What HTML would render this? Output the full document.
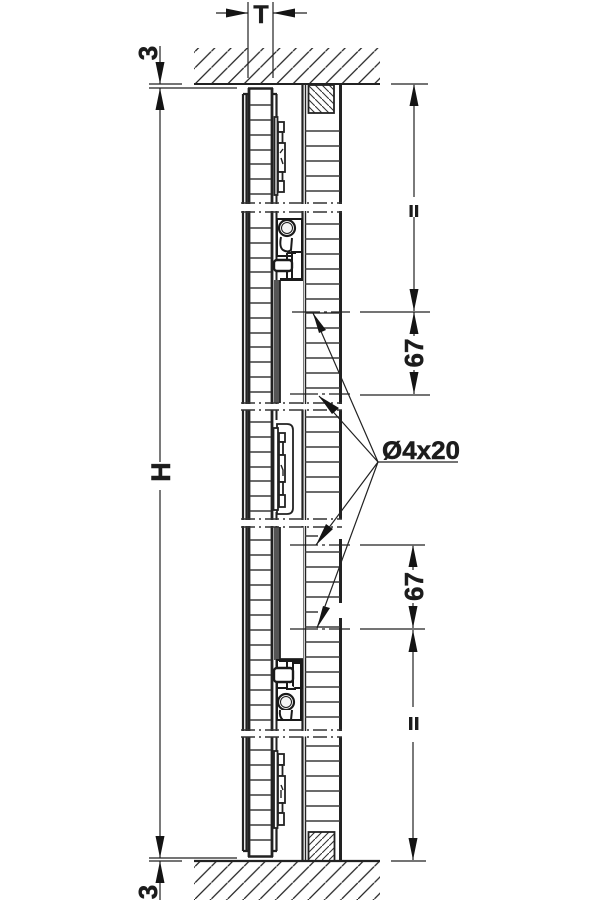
<!DOCTYPE html>
<html><head><meta charset="utf-8"><style>
html,body{margin:0;padding:0;background:#fff;width:600px;height:900px;overflow:hidden}
svg{display:block}
text{font-family:"Liberation Sans",sans-serif;font-weight:bold;fill:#1c1c1c;stroke:#1c1c1c;stroke-width:.5}
</style></head><body>
<svg width="600" height="900" viewBox="0 0 600 900" xmlns="http://www.w3.org/2000/svg">
<defs>
<pattern id="h" patternUnits="userSpaceOnUse" width="16.3" height="16.3" x="195" y="84"><path d="M-2 18.3L18.3-2" stroke="#222" stroke-width="1.3" fill="none"/></pattern>
<pattern id="w1" patternUnits="userSpaceOnUse" width="7" height="7" x="308" y="85"><path d="M-1-1L8 8" stroke="#333" stroke-width="1.1" fill="none"/></pattern>
<pattern id="w2" patternUnits="userSpaceOnUse" width="7" height="7" x="308" y="832"><path d="M-1 8L8-1" stroke="#333" stroke-width="1.1" fill="none"/></pattern>
</defs>

<!-- walls -->
<rect x="194" y="48" width="186" height="36" fill="url(#h)"/>
<rect x="194" y="861" width="186" height="39" fill="url(#h)"/>

<!-- door verticals -->
<g fill="none" stroke="#222">
<path stroke-width="2.2" d="M243 94V851M246.5 94V851"/>
<path stroke-width="2.8" d="M249 88V857"/>
<path stroke-width="2.8" d="M272 88V857"/>
<path stroke-width="2.2" d="M243 94H248M243 851H248M272 94H277M272 851H277M276.5 94V118M276.5 828V851"/>
<path stroke-width="2.6" d="M248 88.5H273M248 856.5H273"/>
<path stroke-width="2" d="M276.5 195V420M276.5 512V752"/>
<!-- door rungs -->
<path stroke="#3a3a3a" stroke-width="1.5" d="M250 105H271M250 120H271M250 135H271M250 150H271M250 164H271M250 179H271M250 194H271M250 228H271M250 243H271M250 258H271M250 272H271M250 288H271M250 303H271M250 318H271M250 333H271M250 347H271M250 362H271M250 377H271M250 392H271M250 422H271M250 437H271M250 452H271M250 467H271M250 481H271M250 496H271M250 511H271M250 540H271M250 555H271M250 570H271M250 585H271M250 600H271M250 615H271M250 630H271M250 645H271M250 660H271M250 675H271M250 690H271M250 705H271M250 720H271M250 750H271M250 765H271M250 780H271M250 795H271M250 810H271M250 825H271M250 840H271"/>
<!-- right panel -->
<path stroke-width="2.2" d="M302.5 84V861"/>
<path stroke-width="1.4" d="M305.5 84V861"/>
<path stroke-width="3" d="M340.5 84V519M340.5 539V603M340.5 618V861"/>
<path stroke="#3a3a3a" stroke-width="1.5" d="M305 131H340M305 146H340M305 161H340M305 176H340M305 191H340M305 224H340M305 239H340M305 254H340M305 269H340M305 284H340M305 299H340M305 313H340M305 328H340M305 343H340M305 358H340M305 373H340M305 388H340M305 417H340M305 432H340M305 447H340M305 462H340M305 477H340M305 492H340M305 536H318M305 552H340M305 567H340M305 582H340M305 597H340M305 612H318M305 627H340M305 642H340M305 657H340M305 672H340M305 687H340M305 702H340M305 717H340M305 746H340M305 761H340M305 776H340M305 791H340M305 806H340M305 821H340"/>
</g>

<!-- wood blocks -->
<rect x="308.5" y="85" width="25.5" height="28" fill="#fff"/><rect x="308.5" y="85" width="25.5" height="28" fill="url(#w1)" stroke="#222" stroke-width="1.8"/>
<rect x="308.5" y="832" width="26" height="29" fill="#fff"/><rect x="308.5" y="832" width="26" height="29" fill="url(#w2)" stroke="#222" stroke-width="1.8"/>

<!-- hardware -->
<g fill="#fff" stroke="#222" stroke-width="1.8">
<rect x="274.5" y="117" width="3" height="78"/>
<rect x="278" y="122" width="6" height="10"/><rect x="278" y="132" width="4.5" height="11"/><rect x="278" y="143" width="7" height="29"/><rect x="278" y="172" width="4.5" height="9"/><rect x="278" y="181" width="6" height="11"/>
<path d="M280 153L283 149M281 158L283 164" fill="none" stroke-width="1.4"/>
<rect x="274" y="751" width="3.5" height="77"/>
<rect x="278" y="754" width="6" height="11"/><rect x="278" y="765" width="4.5" height="11"/><rect x="278" y="776" width="7" height="27"/><rect x="278" y="803" width="4.5" height="10"/><rect x="278" y="813" width="6" height="12"/>
<path d="M281 785L283 790M281 798V790" fill="none" stroke-width="1.4"/>
<path d="M277 424H287Q293 424 293 430V508Q293 514 287 514H277Z"/>
<rect x="273.5" y="428" width="4.5" height="82"/>
<rect x="279" y="433" width="6" height="9"/><rect x="279" y="442" width="4" height="13"/><rect x="279" y="455" width="6" height="27"/><rect x="279" y="482" width="4" height="13"/><rect x="279" y="495" width="6" height="12"/>
<path d="M281 465L283 470V476" fill="none" stroke-width="1.4"/>
</g>

<!-- plates -->
<rect x="274" y="280" width="6" height="123" fill="#555"/>
<rect x="274" y="527" width="6" height="133" fill="#555"/>
<rect x="280" y="280" width="23" height="123" fill="#fff"/>
<rect x="280" y="527" width="23" height="132" fill="#fff"/>
<path d="M280 280V403M280 527V659H303" fill="none" stroke="#222" stroke-width="1.8"/>

<!-- upper hinge -->
<g fill="#fff" stroke="#1a1a1a">
<path stroke-width="2" d="M277 219H302V252H293V256H277Z"/>
<circle cx="287" cy="228" r="8" stroke-width="2.2"/><circle cx="287" cy="228" r="5.5" stroke-width="1" fill="#f4f4f4"/>
<path stroke-width="2" d="M281 237Q279 247 283 250Q288 253 291 250L292 238"/>
<rect x="292" y="252" width="10" height="28" stroke-width="2"/>
<path stroke-width="2" d="M287 253H296M287 253V260M287 270V278"/>
<rect x="274" y="260" width="18" height="11" rx="3" stroke-width="2.4"/>
<path stroke-width="3" d="M280 279.5H303"/>
</g>
<!-- lower hinge -->
<g fill="#fff" stroke="#1a1a1a">
<path stroke-width="2" d="M277 689V720H301V689"/>
<path stroke-width="2" d="M277 660H302V688H277Z"/>
<circle cx="286" cy="702" r="8" stroke-width="2.2"/><circle cx="286" cy="702" r="5.5" stroke-width="1" fill="#f4f4f4"/>
<path stroke-width="2" d="M280 710Q279 717 283 720H291L292 710"/>
<rect x="293" y="663" width="8" height="25" stroke-width="2"/>
<rect x="274" y="668" width="19" height="14" rx="3" stroke-width="2.4"/>
<path stroke-width="2" d="M287 682V689H296M287 662V668"/>
<path stroke-width="3" d="M279 660.5H303"/>
</g>

<!-- break bands -->
<g fill="#fff"><rect x="238" y="204" width="108" height="7"/><rect x="238" y="404" width="108" height="5.5"/><rect x="238" y="520" width="108" height="6"/><rect x="238" y="731" width="108" height="5.5"/></g>
<g stroke="#333" stroke-width="1.6" fill="none" stroke-dasharray="14 4 2 4">
<path d="M241 203H342M241 212H342M241 403H342M241 410H342M241 519H342M241 527H342M241 730H342M241 737H342"/>
</g>

<!-- dimensioning -->
<g stroke="#222" stroke-width="1.2" fill="none">
<path stroke-width="2" d="M194 84H380"/><path stroke-width="2.2" d="M194 861H380"/>
<path d="M248 2V78M273 2V78"/>
<path d="M149 84H182M149 88H237M149 858H237M149 861H182"/>
<path d="M391 84H428M391 861H426"/>
<path d="M292 312H350" stroke-dasharray="28 4 3 4"/><path d="M290 394H350" stroke-dasharray="28 4 3 4"/>
<path d="M290 545H350" stroke-dasharray="28 4 3 4"/><path d="M290 629H350" stroke-dasharray="28 4 3 4"/>
<path d="M360 312H430M360 395H430M360 545H425M360 629H425"/>
<path d="M414 85V197M414 217V311M414 312V336M414 370V394M413 546V570M413 603V628M413 630V707M413 742V860"/>
<path d="M160 46V84M160 88V462M160 490V858M160 861V900"/>
<path d="M377 462H458"/>
<path d="M216 13H248M307 13H273"/>
<path d="M378 462L313 313M378 462L319 396M378 462L316 545M378 462L317 628"/>
</g>
<g fill="#141414">
<path d="M248 13L226 8.5V17.5Z"/><path d="M273 13L295 8.5V17.5Z"/>
<path d="M160 84L155.5 62H164.5Z"/><path d="M160 88L155.5 110H164.5Z"/>
<path d="M160 858L155.5 836H164.5Z"/><path d="M160 861L155.5 883H164.5Z"/>
<path d="M414 84L409.5 106H418.5Z"/><path d="M414 311L409.5 289H418.5Z"/><path d="M414 312L409.5 334H418.5Z"/><path d="M414 394L409.5 372H418.5Z"/>
<path d="M413 545L408.5 567H417.5Z"/><path d="M413 628L408.5 606H417.5Z"/><path d="M413 630L408.5 652H417.5Z"/><path d="M413 860L408.5 838H417.5Z"/>
<path d="M313 313L326 330L319 333Z"/><path d="M319 396L339 408L332 414Z"/><path d="M316 545L326 524L333 529Z"/><path d="M317 628L323 606L330 608Z"/>
</g>
<g fill="#1c1c1c"><rect x="409.5" y="205" width="3.2" height="12"/><rect x="415" y="205" width="3.2" height="12"/>
<rect x="409" y="717" width="3.4" height="13"/><rect x="415" y="717" width="3.4" height="13"/></g>

<text x="261" y="23" font-size="25" text-anchor="middle">T</text>
<text font-size="26" text-anchor="middle" transform="translate(157,53) rotate(-90)">3</text>
<text font-size="26" text-anchor="middle" transform="translate(157,892) rotate(-90)">3</text>
<text font-size="27" text-anchor="middle" transform="translate(170,472) rotate(-90)">H</text>
<text font-size="26" text-anchor="middle" transform="translate(423,353) rotate(-90)">67</text>
<text font-size="26" text-anchor="middle" transform="translate(423,586.5) rotate(-90)">67</text>
<text x="382" y="459" font-size="25" textLength="78" lengthAdjust="spacingAndGlyphs">Ø4x20</text>
</svg>
</body></html>
